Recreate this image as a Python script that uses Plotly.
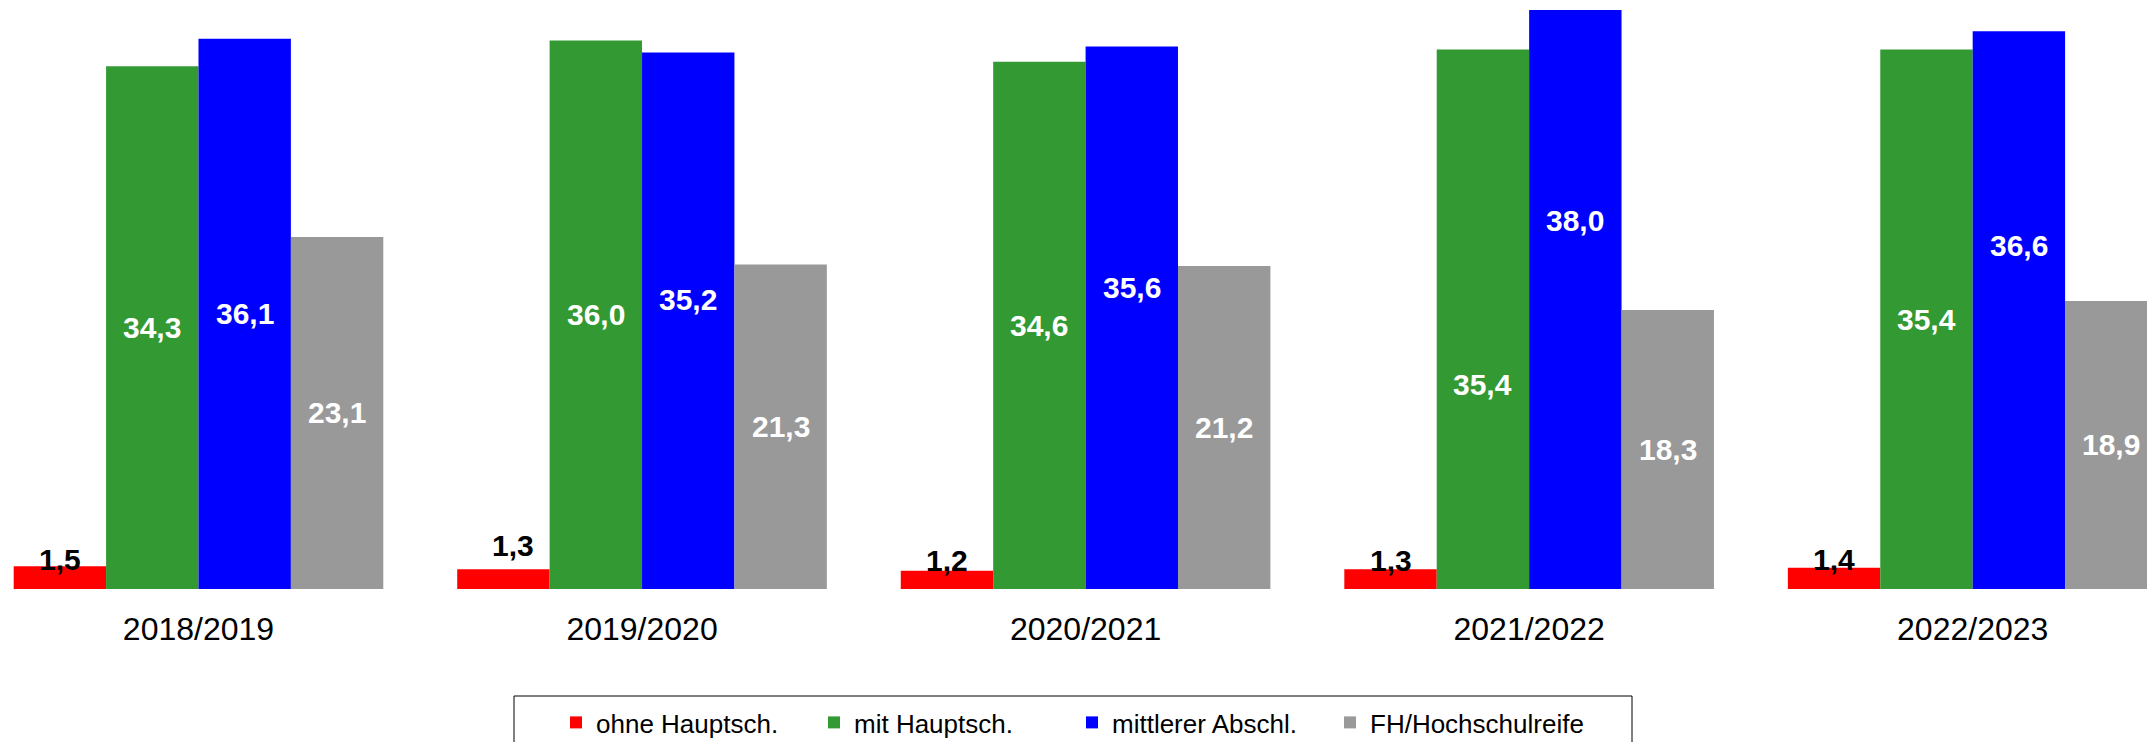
import plotly.graph_objects as go

# School years and leaver shares (percent) by type of school-leaving certificate
years = ["2018/2019", "2019/2020", "2020/2021", "2021/2022", "2022/2023"]
series_names = ["ohne Hauptsch.", "mit Hauptsch.", "mittlerer Abschl.", "FH/Hochschulreife"]
ohne_hauptsch = [1.5, 1.3, 1.2, 1.3, 1.4]
mit_hauptsch = [34.3, 36.0, 34.6, 35.4, 35.4]
mittlerer_abschl = [36.1, 35.2, 35.6, 38.0, 36.6]
fh_hochschulreife = [23.1, 21.3, 21.2, 18.3, 18.9]

series_values = [ohne_hauptsch, mit_hauptsch, mittlerer_abschl, fh_hochschulreife]
colors = ["#FF0000", "#339933", "#0000FF", "#999999"]
label_colors = ["black", "white", "white", "white"]

# Where each value label sits, as a fraction of its bar's height
label_frac = [
    [1.27, 2.22, 1.58, 1.46, 1.36],
    [0.5, 0.5, 0.5, 0.38, 0.5],
    [0.5, 0.54, 0.555, 0.636, 0.615],
    [0.5, 0.5, 0.5, 0.5, 0.5],
]
# Horizontal nudge (px) of individual labels
label_xshift = [
    [0, 10, 0, 0, 0],
    [0, 0, 0, 0, 0],
    [0, 0, 0, 0, 0],
    [0, 0, 0, 0, 0],
]

FONT = "Liberation Sans, Arial, Helvetica, sans-serif"
W, H = 2147, 742
BOTTOM = 153
PLOT_H = H - BOTTOM
BARGAP = 1 / 6

positions = list(range(len(years)))


def fmt(v):
    return f"{v:.1f}".replace(".", ",")


fig = go.Figure()
for name, vals, col in zip(series_names, series_values, colors):
    fig.add_trace(go.Bar(
        x=positions, y=vals, name=name,
        marker=dict(color=col, line=dict(width=0)),
        hoverinfo="skip",
    ))

# value labels placed inside (or just above) their bars
n = len(series_values)
bar_w = (1 - BARGAP) / n
annotations = []
for k, (vals, fracs, shifts) in enumerate(zip(series_values, label_frac, label_xshift)):
    for i, v in enumerate(vals):
        annotations.append(dict(
            x=positions[i] + (k - (n - 1) / 2) * bar_w,
            y=v * fracs[i],
            xref="x", yref="y",
            xshift=shifts[i],
            text=f"<b>{fmt(v)}</b>",
            showarrow=False,
            xanchor="center", yanchor="middle",
            font=dict(family=FONT, size=30, color=label_colors[k]),
        ))


def px_x(p):
    return p / W


def px_y(p):
    return (PLOT_H - p) / PLOT_H


fig.update_layout(
    width=W, height=H,
    margin=dict(l=0, r=0, t=0, b=BOTTOM, autoexpand=False),
    paper_bgcolor="white", plot_bgcolor="white",
    barmode="group", bargap=BARGAP, bargroupgap=0,
    font=dict(family=FONT, color="black"),
    showlegend=True,
    legend=dict(
        orientation="h",
        x=px_x(556), xanchor="left",
        y=px_y(699), yanchor="top",
        font=dict(family=FONT, size=26, color="black"),
        bgcolor="rgba(0,0,0,0)", borderwidth=0,
        entrywidth=213, entrywidthmode="pixels",
        traceorder="normal",
    ),
    annotations=annotations,
    shapes=[dict(
        type="rect", xref="paper", yref="paper",
        x0=px_x(514), x1=px_x(1632), y0=px_y(696), y1=px_y(770),
        line=dict(color="black", width=1), fillcolor="rgba(0,0,0,0)",
    )],
    xaxis=dict(
        range=[-0.4475, 4.393],
        tickmode="array", tickvals=positions, ticktext=years,
        tickfont=dict(family=FONT, size=32, color="black"),
        ticks="", showline=False, showgrid=False, zeroline=False,
        ticklabelstandoff=18,
    ),
    yaxis=dict(
        range=[0, 38.65],
        showticklabels=False, ticks="", showline=False,
        showgrid=False, zeroline=False,
    ),
)

fig.write_html("out.html")
